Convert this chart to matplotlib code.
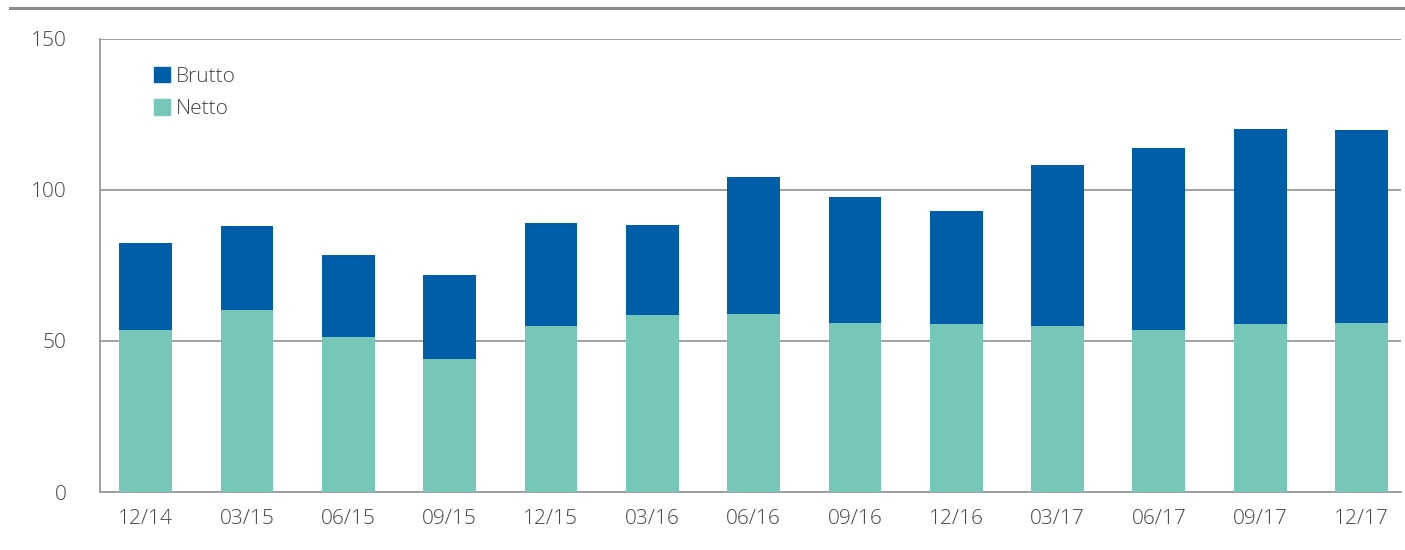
import matplotlib
matplotlib.use("Agg")
import matplotlib.pyplot as plt
from matplotlib.lines import Line2D
from matplotlib.patches import Patch

categories = ["12/14", "03/15", "06/15", "09/15", "12/15", "03/16", "06/16",
              "09/16", "12/16", "03/17", "06/17", "09/17", "12/17"]
brutto = [82.4, 88.0, 78.4, 71.8, 89.0, 88.3, 104.3, 97.6, 93.0, 108.2, 113.8, 120.1, 119.7]
netto = [53.6, 60.2, 51.3, 44.1, 55.0, 58.6, 59.0, 56.0, 55.6, 55.0, 53.6, 55.6, 56.0]
yticks = [0, 50, 100, 150]

c_brutto = "#005EA8"
c_netto = "#76C7B8"
grid_c = "#9a9a9a"
text_c = "#444444"

plt.rcParams['font.family'] = ['Open Sans', 'DejaVu Sans']

fig = plt.figure(figsize=(14.05, 5.5), dpi=100)
ax = fig.add_axes([100/1405, 58/550, 1301/1405, 453.5/550])

x = list(range(len(categories)))
ax.bar(x, brutto, width=0.52, color=c_brutto, zorder=2, label="Brutto")
ax.bar(x, netto, width=0.52, color=c_netto, zorder=3, label="Netto")

ax.set_xlim(-0.45, 12.39)
ax.set_ylim(0, 150)
ax.set_yticks(yticks)
ax.set_xticks(x)
ax.set_xticklabels(categories)
ax.tick_params(length=0, labelsize=15, labelcolor=text_c)
ax.tick_params(axis='y', pad=24)
ax.tick_params(axis='x', pad=12)
for lab in ax.get_xticklabels() + ax.get_yticklabels():
    lab.set_fontweight('light')

ax.yaxis.grid(True, color=grid_c, linewidth=1.3, zorder=1)
ax.set_axisbelow(True)
for s in ["top", "right"]:
    ax.spines[s].set_visible(False)
for s in ["left", "bottom"]:
    ax.spines[s].set_color(grid_c)
    ax.spines[s].set_linewidth(1.3)

handles = [Patch(color=c_brutto, label="Brutto"), Patch(color=c_netto, label="Netto")]
leg = ax.legend(handles=handles, loc="upper left", bbox_to_anchor=(0.027, 0.979),
                frameon=False, fontsize=15, handlelength=0.75, handleheight=0.75,
                handletextpad=0.3, labelspacing=0.6)
for t in leg.get_texts():
    t.set_color(text_c)
    t.set_fontweight('light')

fig.add_artist(Line2D([10/1405, 1.0], [1 - 8/550, 1 - 8/550], color="#8a8a8a",
                      linewidth=2.2, transform=fig.transFigure))

fig.savefig("out.png", dpi=100)
